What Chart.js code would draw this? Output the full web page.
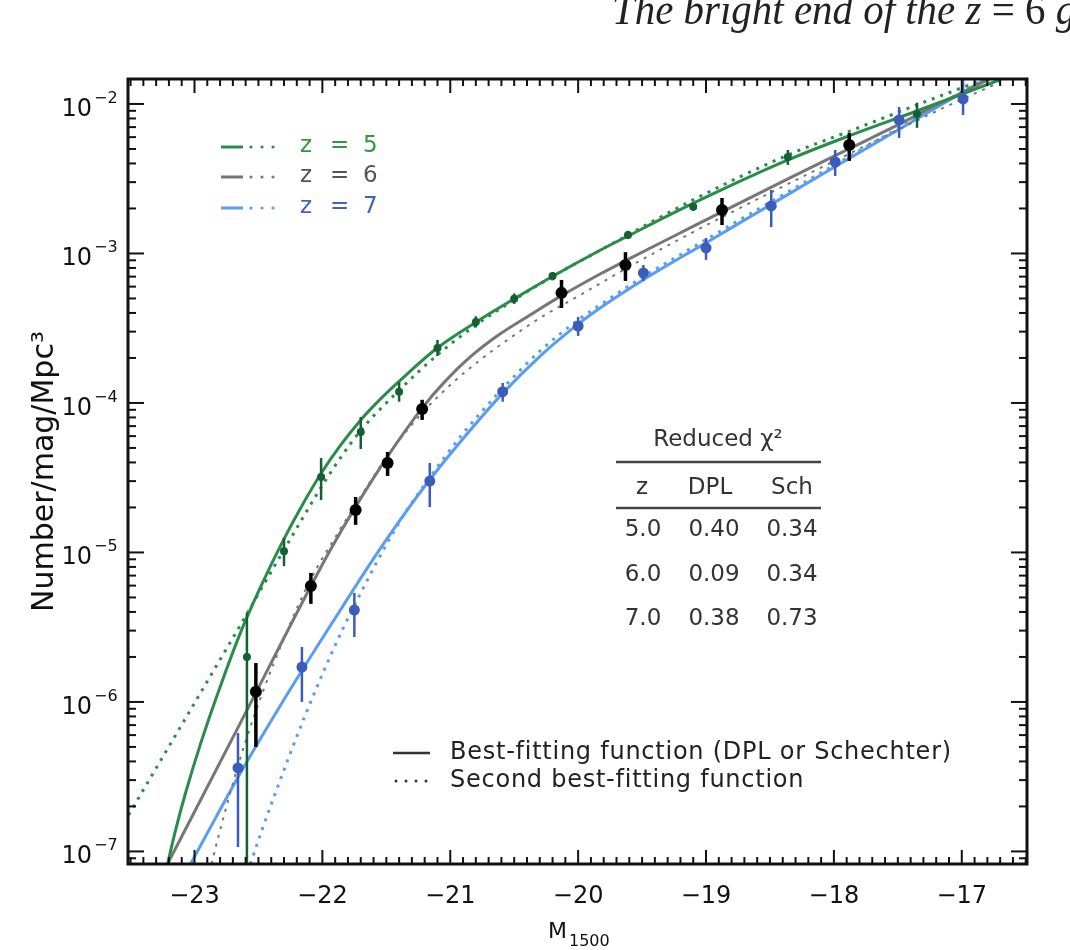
<!DOCTYPE html>
<html><head><meta charset="utf-8">
<script src="https://cdn.jsdelivr.net/npm/chart.js@4/dist/chart.umd.min.js"></script>
<style>
html,body{margin:0;padding:0;background:#fff;}
#wrap{position:relative;width:1070px;height:950px;overflow:hidden;background:#fff;}
#c{position:absolute;left:0;top:0;}
#hdr{position:absolute;left:612px;top:-12px;font:italic 44px/44px "Liberation Serif","DejaVu Serif",serif;color:#222;white-space:nowrap;z-index:2;transform:scaleX(0.93);transform-origin:0 0;}
#hdr span{font-style:normal;}
</style></head><body>
<div id="wrap"><canvas id="c" width="1070" height="950"></canvas><div id="hdr">The bright end of the z <span>= 6</span> g</div></div>
<script>
// ---------- observed points (M1500, phi, upper, lower) ----------
const z5_M   = [-22.59,-22.30,-22.01,-21.70,-21.40,-21.10,-20.80,-20.50,-20.20,-19.61,-19.10,-18.36,-17.35];
const z5_phi = [2.0e-6,1.02e-5,3.2e-5,6.4e-5,1.19e-4,2.33e-4,3.48e-4,4.97e-4,7.06e-4,1.33e-3,2.05e-3,4.41e-3,8.57e-3];
const z5_hi  = [3.94e-6,1.25e-5,4.28e-5,8.05e-5,1.38e-4,2.64e-4,3.8e-4,5.4e-4,7.5e-4,1.42e-3,2.18e-3,4.92e-3,1.02e-2];
const z5_lo  = [1e-8,8.1e-6,2.24e-5,4.92e-5,1.02e-4,2.06e-4,3.2e-4,4.6e-4,6.6e-4,1.25e-3,1.93e-3,3.91e-3,6.92e-3];

const z6_M   = [-22.52,-22.09,-21.74,-21.49,-21.22,-20.13,-19.63,-18.875,-17.88];
const z6_phi = [1.17e-6,5.97e-6,1.92e-5,3.97e-5,9.12e-5,5.45e-4,8.37e-4,1.95e-3,5.32e-3];
const z6_hi  = [1.82e-6,7.3e-6,2.35e-5,4.7e-5,1.05e-4,6.65e-4,1.02e-3,2.35e-3,6.4e-3];
const z6_lo  = [5.0e-7,4.53e-6,1.53e-5,3.25e-5,7.7e-5,4.32e-4,6.55e-4,1.55e-3,4.16e-3];

const z7_M   = [-22.66,-22.16,-21.75,-21.16,-20.59,-20.00,-19.49,-19.00,-18.49,-17.99,-17.49,-16.99];
const z7_phi = [3.62e-7,1.71e-6,4.12e-6,3.0e-5,1.19e-4,3.27e-4,7.41e-4,1.09e-3,2.08e-3,4.09e-3,7.82e-3,1.08e-2];
const z7_hi  = [6.2e-7,2.33e-6,5.36e-6,3.97e-5,1.36e-4,3.76e-4,8.37e-4,1.27e-3,2.66e-3,4.92e-3,9.55e-3,1.52e-2];
const z7_lo  = [1.07e-7,1.0e-6,2.72e-6,2.01e-5,1.02e-4,2.81e-4,6.55e-4,9.06e-4,1.50e-3,3.30e-3,5.93e-3,8.44e-3];

// ---------- fitted curves ----------
// z=5: best = Schechter (solid), second = DPL (dotted)
const z5_best_M   = [-23.211,-23.148,-23.070,-22.953,-22.797,-22.641,-22.484,-22.305,-22.172,-22.008,-21.859,-21.703,-21.547,-21.398,-21.102,-20.797,-20.500,-20.195,-19.828,-19.609,-19.102,-18.359,-17.875,-17.352,-16.703];
const z5_best_phi = [8.24e-8,1.39e-7,2.46e-7,5.24e-7,1.28e-6,2.90e-6,5.87e-6,1.21e-5,1.97e-5,3.40e-5,5.20e-5,7.64e-5,1.06e-4,1.40e-4,2.33e-4,3.48e-4,4.97e-4,7.06e-4,1.05e-3,1.31e-3,2.16e-3,4.22e-3,6.15e-3,8.97e-3,1.45e-2];
const z5_sec_M    = [-23.516,-22.953,-22.641,-22.406,-22.172,-22.008,-21.859,-21.703,-21.398,-21.102,-20.797,-20.500,-20.195,-19.828,-19.102,-18.359,-17.875,-17.352,-16.820];
const z5_sec_phi  = [1.75e-7,1.15e-6,3.27e-6,7.29e-6,1.60e-5,2.74e-5,4.29e-5,6.50e-5,1.22e-4,2.09e-4,3.33e-4,4.89e-4,7.06e-4,1.05e-3,2.28e-3,4.56e-3,6.59e-3,9.84e-3,1.47e-2];

// z=6: best = DPL (solid), second = Schechter (dotted)
const z6_best_M   = [-23.211,-22.641,-22.094,-21.938,-21.742,-21.492,-21.219,-21.039,-20.844,-20.609,-20.375,-20.133,-19.828,-19.633,-19.203,-18.875,-18.344,-17.883,-17.484,-17.227,-16.781];
const z6_best_phi = [8.24e-8,7.24e-7,5.87e-6,1.04e-5,2.01e-5,4.36e-5,9.27e-5,1.40e-4,2.03e-4,2.90e-4,3.88e-4,5.20e-4,7.29e-4,8.91e-4,1.37e-3,1.90e-3,3.20e-3,5.00e-3,7.35e-3,9.55e-3,1.47e-2];
const z6_sec_M    = [-22.867,-22.820,-22.719,-22.602,-22.461,-22.289,-22.094,-21.898,-21.703,-21.469,-21.234,-21.000,-20.766,-20.531,-20.297,-19.984,-19.633,-19.203,-18.875,-18.344,-17.883,-17.227,-16.703];
const z6_sec_phi  = [8.24e-8,1.19e-7,2.50e-7,5.40e-7,1.20e-6,2.81e-6,6.55e-6,1.27e-5,2.35e-5,4.70e-5,8.32e-5,1.32e-4,1.94e-4,2.72e-4,3.71e-4,5.27e-4,7.87e-4,1.25e-3,1.75e-3,2.96e-3,4.63e-3,8.71e-3,1.40e-2];

// z=7: best = DPL (solid), second = Schechter (dotted)
const z7_best_M   = [-23.031,-22.836,-22.641,-22.406,-22.172,-21.859,-21.570,-21.313,-21.156,-20.922,-20.594,-20.297,-20.000,-19.828,-19.492,-18.992,-18.008,-17.352,-16.781];
const z7_best_phi = [8.24e-8,1.67e-7,3.35e-7,7.35e-7,1.56e-6,4.12e-6,9.93e-6,2.05e-5,3.10e-5,5.48e-5,1.15e-4,2.06e-4,3.37e-4,4.32e-4,6.65e-4,1.19e-3,3.73e-3,7.94e-3,1.52e-2];
const z7_sec_M    = [-22.563,-22.469,-22.367,-22.250,-22.133,-21.992,-21.836,-21.680,-21.523,-21.352,-21.156,-20.922,-20.594,-20.297,-20.000,-19.828,-19.492,-18.992,-18.008,-16.781];
const z7_sec_phi  = [8.24e-8,1.42e-7,2.46e-7,4.56e-7,8.18e-7,1.59e-6,3.13e-6,5.79e-6,1.04e-5,1.84e-5,3.20e-5,5.93e-5,1.24e-4,2.23e-4,3.59e-4,4.53e-4,6.97e-4,1.25e-3,3.85e-3,1.54e-2];

// ---------- axes, legend and table text ----------
const xTickValues = [-23,-22,-21,-20,-19,-18,-17];
const yTickExps   = [-7,-6,-5,-4,-3,-2];
const legendZ     = ['5','6','7'];
const tableZ   = ['5.0','6.0','7.0'];
const tableDPL = ['0.40','0.09','0.38'];
const tableSch = ['0.34','0.34','0.73'];

const FONT = '"DejaVu Sans", "Liberation Sans", sans-serif';
const COL = {
  g: {line:'#2a8c4a', mark:'#155f34', text:'#2f9a3b'},
  k: {line:'#777777', mark:'#000000', text:'#555555'},
  b: {line:'#5a9cf0', mark:'#3b5cb8', text:'#3f63c0'}
};
const pts = (M, P) => M.map((m,i)=>({x:m, y:P[i]}));

function pointSet(M, P, hi, lo, c, r, ew){
  return {data:pts(M,P), showLine:false, pointRadius:r, pointHoverRadius:r, pointBackgroundColor:c.mark,
          pointBorderColor:c.mark, pointBorderWidth:0, order:0, errM:M, errHi:hi, errLo:lo, errColor:c.mark, errWidth:ew};
}
function curveSet(M, P, c, dotted, w){
  return {data:pts(M,P), showLine:true, pointRadius:0, pointHoverRadius:0, borderColor:c.line, borderWidth:w,
          borderDash: dotted ? [3,6] : [], borderCapStyle:'butt', cubicInterpolationMode:'monotone', fill:false, order:10};
}

const lfPlugin = {
  id:'lfPlot',
  beforeDraw(chart){
    const ctx = chart.ctx; ctx.save(); ctx.fillStyle='#fff'; ctx.fillRect(0,0,chart.width,chart.height); ctx.restore();
  },
  beforeDatasetDraw(chart, args){
    const ds = chart.data.datasets[args.index];
    if (!ds.errHi) return;
    const ctx = chart.ctx, a = chart.chartArea, xs = chart.scales.x, ys = chart.scales.y;
    ctx.save();
    ctx.beginPath(); ctx.rect(a.left, a.top, a.right-a.left, a.bottom-a.top); ctx.clip();
    ctx.strokeStyle = ds.errColor; ctx.lineWidth = ds.errWidth;
    ds.errM.forEach((m,i)=>{
      const px = xs.getPixelForValue(m);
      ctx.beginPath();
      ctx.moveTo(px, ys.getPixelForValue(ds.errHi[i]));
      ctx.lineTo(px, ys.getPixelForValue(ds.errLo[i]));
      ctx.stroke();
    });
    ctx.restore();
  },
  afterDatasetsDraw(chart){
    const ctx = chart.ctx, a = chart.chartArea, xs = chart.scales.x, ys = chart.scales.y;
    ctx.save();
    // frame
    ctx.strokeStyle = '#111'; ctx.lineWidth = 3;
    ctx.strokeRect(a.left, a.top, a.right-a.left, a.bottom-a.top);
    // ticks
    ctx.lineWidth = 2;
    const seg = (x1,y1,x2,y2)=>{ctx.beginPath();ctx.moveTo(x1,y1);ctx.lineTo(x2,y2);ctx.stroke();};
    for (let k = Math.ceil(xs.min*10); k <= Math.floor(xs.max*10); k++){
      const px = xs.getPixelForValue(k/10), len = (k % 10 === 0) ? 14 : 7;
      seg(px, a.bottom, px, a.bottom-len); seg(px, a.top, px, a.top+len);
    }
    for (let d = -8; d <= -1; d++) for (let m = 1; m <= 9; m++){
      const v = m*Math.pow(10,d); if (v < ys.min || v > ys.max) continue;
      const py = ys.getPixelForValue(v), len = m===1 ? 16 : 8;
      seg(a.left, py, a.left+len, py); seg(a.right, py, a.right-len, py);
    }
    // y tick labels 10^n
    ctx.fillStyle = '#111'; ctx.textBaseline = 'alphabetic';
    yTickExps.forEach(e=>{
      const py = ys.getPixelForValue(Math.pow(10,e));
      ctx.font = '24px '+FONT; ctx.textAlign='right'; ctx.fillText('10', 92, py+12);
      ctx.font = '16px '+FONT; ctx.textAlign='left'; ctx.fillText('\u2212'+Math.abs(e), 94, py-1);
    });
    // x title M_1500
    ctx.font = '22px '+FONT; ctx.textAlign='left'; ctx.fillText('M', 548, 938);
    ctx.font = '16px '+FONT; ctx.fillText('1500', 569, 946);

    // legend (top-left)
    const rows = [COL.g, COL.k, COL.b], ry = [147,177,208];
    rows.forEach((c,i)=>{
      const y = ry[i];
      ctx.strokeStyle = c.line; ctx.lineWidth = 3; seg(221, y, 243, y);
      ctx.fillStyle = c.line;
      [251,262,273].forEach(x=>{ctx.beginPath();ctx.arc(x,y,1.6,0,Math.PI*2);ctx.fill();});
      ctx.fillStyle = c.text; ctx.font = '23px '+FONT; ctx.textBaseline='middle'; ctx.textAlign='left';
      ctx.fillText('z', 300, y-1); ctx.fillText('=', 330, y-1); ctx.fillText(legendZ[i], 363, y-1);
    });

    // legend (bottom)
    ctx.strokeStyle = '#333'; ctx.fillStyle = '#333'; ctx.lineWidth = 2.5;
    seg(393, 753, 430, 753);
    [396,406,416,426].forEach(x=>{ctx.beginPath();ctx.arc(x,781,1.5,0,Math.PI*2);ctx.fill();});
    ctx.fillStyle = '#222'; ctx.font = '24px '+FONT; ctx.textAlign='left'; ctx.textBaseline='middle';
    ctx.letterSpacing = '0.75px';
    ctx.fillText('Best-fitting function (DPL or Schechter)', 450, 753);
    ctx.fillText('Second best-fitting function', 450, 781);
    ctx.letterSpacing = '0px';

    // reduced chi^2 table
    ctx.fillStyle = '#333'; ctx.strokeStyle = '#444'; ctx.lineWidth = 2.5;
    ctx.font = '23px '+FONT; ctx.textAlign='center'; ctx.textBaseline='middle';
    ctx.fillText('Reduced \u03C7\u00B2', 718, 440);
    seg(616, 462, 821, 462);
    ctx.fillText('z', 642, 488); ctx.fillText('DPL', 710, 488); ctx.fillText('Sch', 792, 488);
    seg(616, 508, 821, 508);
    const rowY = [530, 575, 619];
    tableZ.forEach((z,i)=>{
      ctx.fillText(z, 643, rowY[i]); ctx.fillText(tableDPL[i], 714, rowY[i]); ctx.fillText(tableSch[i], 792, rowY[i]);
    });
    ctx.restore();
  }
};

new Chart(document.getElementById('c'), {
  type:'scatter',
  data:{ datasets:[
    pointSet(z5_M, z5_phi, z5_hi, z5_lo, COL.g, 4, 2.5),
    pointSet(z6_M, z6_phi, z6_hi, z6_lo, COL.k, 6, 3.5),
    pointSet(z7_M, z7_phi, z7_hi, z7_lo, COL.b, 5.5, 2.5),
    curveSet(z5_best_M, z5_best_phi, COL.g, false, 3),
    curveSet(z5_sec_M,  z5_sec_phi,  COL.g, true, 3),
    curveSet(z6_best_M, z6_best_phi, COL.k, false, 3),
    curveSet(z6_sec_M,  z6_sec_phi,  COL.k, true, 2),
    curveSet(z7_best_M, z7_best_phi, COL.b, false, 3),
    curveSet(z7_sec_M,  z7_sec_phi,  COL.b, true, 3)
  ]},
  options:{
    responsive:false, animation:false, devicePixelRatio:1,
    layout:{padding:{left:0, right:43, top:79, bottom:0}},
    plugins:{legend:{display:false}, tooltip:{enabled:false}},
    scales:{
      x:{type:'linear', min:-23.52, max:-16.49,
         grid:{display:false, drawTicks:false}, border:{display:false},
         afterBuildTicks: s => { s.ticks = xTickValues.map(v=>({value:v})); },
         ticks:{autoSkip:false, maxRotation:0, padding:18, color:'#111',
                font:{family:FONT, size:24},
                callback: v => (v<0?'\u2212':'') + Math.abs(v)},
         afterFit: s => { s.height = 86; }},
      y:{type:'logarithmic', min:8.24e-8, max:0.01469,
         grid:{display:false, drawTicks:false}, border:{display:false},
         ticks:{display:false},
         title:{display:true, text:'Number/mag/Mpc\u00B3', color:'#111', font:{family:FONT, size:30}, padding:{top:27, bottom:0}},
         afterFit: s => { s.width = 128; }}
    }
  },
  plugins:[lfPlugin]
});
</script>
</body></html>
